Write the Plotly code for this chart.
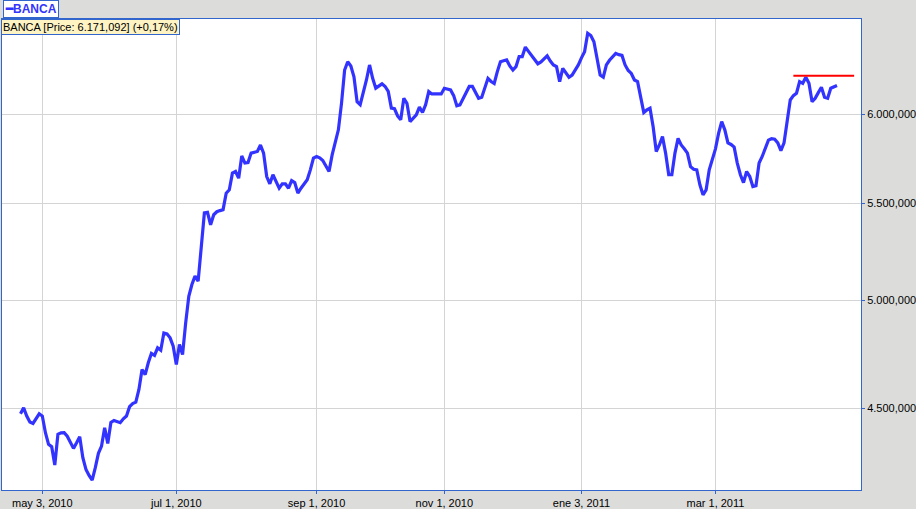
import plotly.graph_objects as go
import math

# Trading-day index (0 = first session shown, ~22 Apr 2010)
prices = [
    4476, 4502, 4466, 4440, 4434, 4458, 4476, 4466, 4394, 4344,
    4334, 4257, 4387, 4393, 4394, 4379, 4351, 4327, 4351, 4377,
    4288, 4239, 4214, 4195, 4246, 4306, 4337, 4415, 4348, 4438,
    4447, 4442, 4437, 4454, 4466, 4507, 4521, 4527, 4584, 4674,
    4651, 4705, 4748, 4739, 4774, 4763, 4844, 4840, 4821, 4782,
    4697, 4790, 4743, 4892, 5021, 5079, 5121, 5096, 5290, 5448,
    5451, 5385, 5438, 5454, 5460, 5465, 5554, 5572, 5664, 5673,
    5636, 5760, 5720, 5723, 5776, 5780, 5785, 5822, 5776, 5645,
    5605, 5655, 5616, 5581, 5605, 5605, 5581, 5623, 5612, 5554,
    5581, 5605, 5627, 5682, 5748, 5757, 5749, 5734, 5704, 5673,
    5766, 5841, 5909, 6064, 6265, 6316, 6290, 6224, 6074, 6056,
    6124, 6204, 6296, 6214, 6155, 6168, 6181, 6165, 6135, 6036,
    6032, 5990, 5967, 6094, 6064, 5957, 5975, 5996, 6042, 6010,
    6056, 6134, 6120, 6120, 6120, 6120, 6154, 6150, 6144, 6110,
    6050, 6055, 6094, 6135, 6165, 6165, 6130, 6094, 6100, 6160,
    6214, 6195, 6183, 6255, 6316, 6322, 6327, 6290, 6265, 6286,
    6348, 6348, 6407, 6380, 6352, 6323, 6303, 6315, 6331, 6352,
    6320, 6296, 6286, 6194, 6275, 6245, 6221, 6234, 6265, 6296,
    6340, 6378, 6494, 6480, 6441, 6348, 6234, 6221, 6296, 6325,
    6348, 6368, 6360, 6355, 6296, 6262, 6244, 6204, 6194, 6102,
    6010, 6025, 6035, 5927, 5785, 5822, 5870, 5776, 5655, 5655,
    5776, 5860, 5822, 5800, 5776, 5700, 5685, 5682, 5600, 5545,
    5572, 5682, 5738, 5800, 5888, 5957, 5909, 5834, 5825, 5810,
    5720, 5655, 5612, 5673, 5645, 5590, 5595, 5720, 5757, 5800,
    5850, 5858, 5855, 5834, 5790, 5834, 5967, 6084, 6110, 6124,
    6194, 6184, 6221, 6184, 6074, 6094, 6128, 6160, 6100, 6094,
    6154, 6160.6, 6171.092,
]
days = list(range(len(prices)))

# x-axis date ticks (trading-day index -> label)
tick_days = [7, 50, 95, 136, 180, 223]
tick_labels = ["may 3, 2010", "jul 1, 2010", "sep 1, 2010", "nov 1, 2010",
               "ene 3, 2011", "mar 1, 2011"]

# y-axis ticks
y_ticks = [4500, 5000, 5500, 6000]
y_tick_labels = ["4.500,000", "5.000,000", "5.500,000", "6.000,000"]

# red horizontal level
level_value = 6230
level_days = [248, 267.5]

series_name = "BANCA"
info_text = "BANCA [Price: 6.171,092] (+0,17%)"

BLUE_LINE = "#3333ff"
FRAME = "#3366cc"

fig = go.Figure()
fig.add_trace(go.Scatter(
    x=days, y=prices, mode="lines",
    line=dict(color=BLUE_LINE, width=3.2),
    name=series_name, showlegend=False, hoverinfo="skip",
))
fig.add_trace(go.Scatter(
    x=level_days, y=[level_value, level_value], mode="lines",
    line=dict(color="#ff0000", width=2),
    showlegend=False, hoverinfo="skip",
))

font = dict(family="Liberation Sans, Arial, sans-serif", size=11, color="#000000")

fig.update_layout(
    width=916, height=509,
    margin=dict(l=2, r=55, t=19, b=19),
    paper_bgcolor="#dcdddb",
    plot_bgcolor="#ffffff",
    font=font,
    xaxis=dict(
        range=[-5.94, 269.7],
        tickmode="array", tickvals=tick_days, ticktext=tick_labels,
        showgrid=True, gridcolor="#d4d4d4", gridwidth=1,
        zeroline=False, automargin=False,
        showline=True, linecolor=FRAME, linewidth=1, mirror=True,
        ticks="outside", ticklen=3, tickcolor=FRAME,
        tickfont=font,
    ),
    yaxis=dict(
        type="log",
        range=[math.log10(4154.4), math.log10(6585.5)],
        side="right",
        tickmode="array", tickvals=y_ticks, ticktext=y_tick_labels,
        showgrid=True, gridcolor="#d4d4d4", gridwidth=1,
        zeroline=False, automargin=False,
        showline=True, linecolor=FRAME, linewidth=1, mirror=True,
        ticks="outside", ticklen=3, tickcolor=FRAME,
        tickfont=font,
    ),
    annotations=[
        dict(
            xref="paper", yref="paper", x=0.0015, y=1.0, xanchor="left", yanchor="bottom",
            yshift=1,
            text="<b>━BANCA</b>", showarrow=False,
            font=dict(family="Liberation Sans, Arial, sans-serif", size=12, color=BLUE_LINE),
            bgcolor="#ffffff", bordercolor=FRAME, borderwidth=1, borderpad=1,
        ),
        dict(
            xref="paper", yref="paper", x=-0.001, y=1.0, xanchor="left", yanchor="top",
            text=info_text, showarrow=False,
            font=dict(family="Liberation Sans, Arial, sans-serif", size=11, color="#000000"),
            bgcolor="#fdf3c3", bordercolor=FRAME, borderwidth=1, borderpad=1,
        ),
    ],
)

fig.write_html(
    "out.html",
    config={"displayModeBar": False},
    post_script="document.body.style.margin='0';document.body.style.overflow='hidden';",
)
